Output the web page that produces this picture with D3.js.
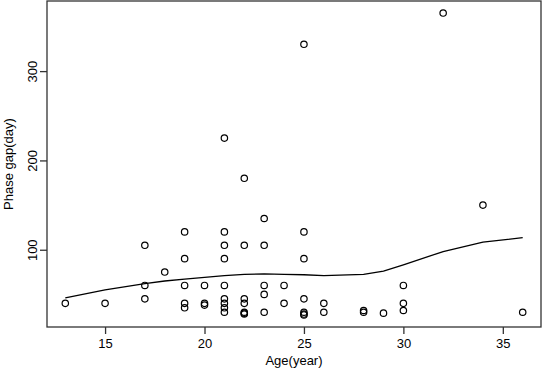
<!DOCTYPE html>
<html>
<head>
    <title>Phase gap vs Age</title>
    <style>
        body { margin: 0; background: #fff; }
        svg text { font-family: "Liberation Sans", Arial, sans-serif; fill: #000; }
    </style>
</head>
<body>
    <div id="chart"></div>
    <script src="https://d3js.org/d3.v7.min.js"></script>
    <script>
        // observations (age in years, phase gap in days)
        var ages = [13, 15, 17, 17, 17, 18,
            19, 19, 19, 19, 19, 20, 20, 20,
            21, 21, 21, 21, 21, 21, 21, 21, 21,
            22, 22, 22, 22, 22, 22, 22,
            23, 23, 23, 23, 23, 24, 24,
            25, 25, 25, 25, 25, 25, 25,
            26, 26, 28, 28, 29, 30, 30, 30, 32, 34, 36];
        var gaps = [40, 40, 105, 60, 45, 75,
            120, 90, 60, 40, 35, 60, 40, 38,
            225, 120, 105, 90, 60, 45, 40, 35, 30,
            180, 105, 45, 40, 30, 29, 28,
            135, 105, 60, 50, 30, 60, 40,
            330, 120, 90, 45, 30, 28, 27,
            40, 30, 32, 30, 29, 60, 40, 32, 365, 150, 30];

        // smoothed curve
        var fitAge = [13, 15, 17, 18, 19, 20, 21, 22, 23, 24, 25, 26, 28, 29, 30, 32, 34, 36];
        var fitGap = [46, 55, 62, 65, 67, 69, 71, 72.5, 73, 72.5, 72, 71, 72.5, 76, 83, 98, 108.5, 113.5];

        var xTicks = [15, 20, 25, 30, 35];
        var yTicks = [100, 200, 300];

        var width = 543, height = 372;
        var plotLeft = 47, plotRight = 541, plotTop = 1, plotBottom = 327;

        var svg = d3.select("#chart").append("svg")
            .attr("width", width)
            .attr("height", height);

        var x = d3.scaleLinear().domain([12.08, 36.92]).range([plotLeft, plotRight]);
        var y = d3.scaleLinear().domain([13.5, 378.5]).range([plotBottom, plotTop]);

        // frame
        svg.append("rect")
            .attr("x", plotLeft).attr("y", plotTop)
            .attr("width", plotRight - plotLeft).attr("height", plotBottom - plotTop)
            .attr("fill", "none").attr("stroke", "#333").attr("stroke-width", 1.3);

        // x axis
        var xAxis = svg.append("g")
            .attr("transform", "translate(0," + plotBottom + ")")
            .call(d3.axisBottom(x).tickValues(xTicks).tickSize(7).tickPadding(5).tickFormat(d3.format("d")));
        xAxis.select(".domain").remove();
        xAxis.selectAll("line").attr("stroke", "#333").attr("stroke-width", 1.3);
        xAxis.selectAll("text").attr("font-size", 13).attr("font-family", "Liberation Sans, Arial, sans-serif");

        // y axis, labels rotated like R
        var yAxis = svg.append("g")
            .attr("transform", "translate(" + plotLeft + ",0)")
            .call(d3.axisLeft(y).tickValues(yTicks).tickSize(7).tickFormat(d3.format("d")));
        yAxis.select(".domain").remove();
        yAxis.selectAll("line").attr("stroke", "#333").attr("stroke-width", 1.3);
        yAxis.selectAll("text")
            .attr("font-size", 13)
            .attr("font-family", "Liberation Sans, Arial, sans-serif")
            .attr("x", 0).attr("dy", null)
            .attr("text-anchor", "middle")
            .attr("transform", "translate(-10,0) rotate(-90)");

        // axis titles
        svg.append("text")
            .attr("x", (plotLeft + plotRight) / 2).attr("y", 365)
            .attr("text-anchor", "middle").attr("font-size", 13)
            .text("Age(year)");
        svg.append("text")
            .attr("transform", "translate(13," + ((plotTop + plotBottom) / 2) + ") rotate(-90)")
            .attr("text-anchor", "middle").attr("font-size", 13)
            .text("Phase gap(day)");

        // points
        svg.append("g").selectAll("circle")
            .data(ages)
            .enter().append("circle")
            .attr("cx", function (d) { return x(d); })
            .attr("cy", function (d, i) { return y(gaps[i]); })
            .attr("r", 3.2)
            .attr("fill", "none")
            .attr("stroke", "#000")
            .attr("stroke-width", 1.2);

        // smooth line
        var line = d3.line()
            .x(function (d) { return x(d); })
            .y(function (d, i) { return y(fitGap[i]); });
        svg.append("path")
            .datum(fitAge)
            .attr("d", line)
            .attr("fill", "none")
            .attr("stroke", "#000")
            .attr("stroke-width", 1.3);
    </script>
</body>
</html>
